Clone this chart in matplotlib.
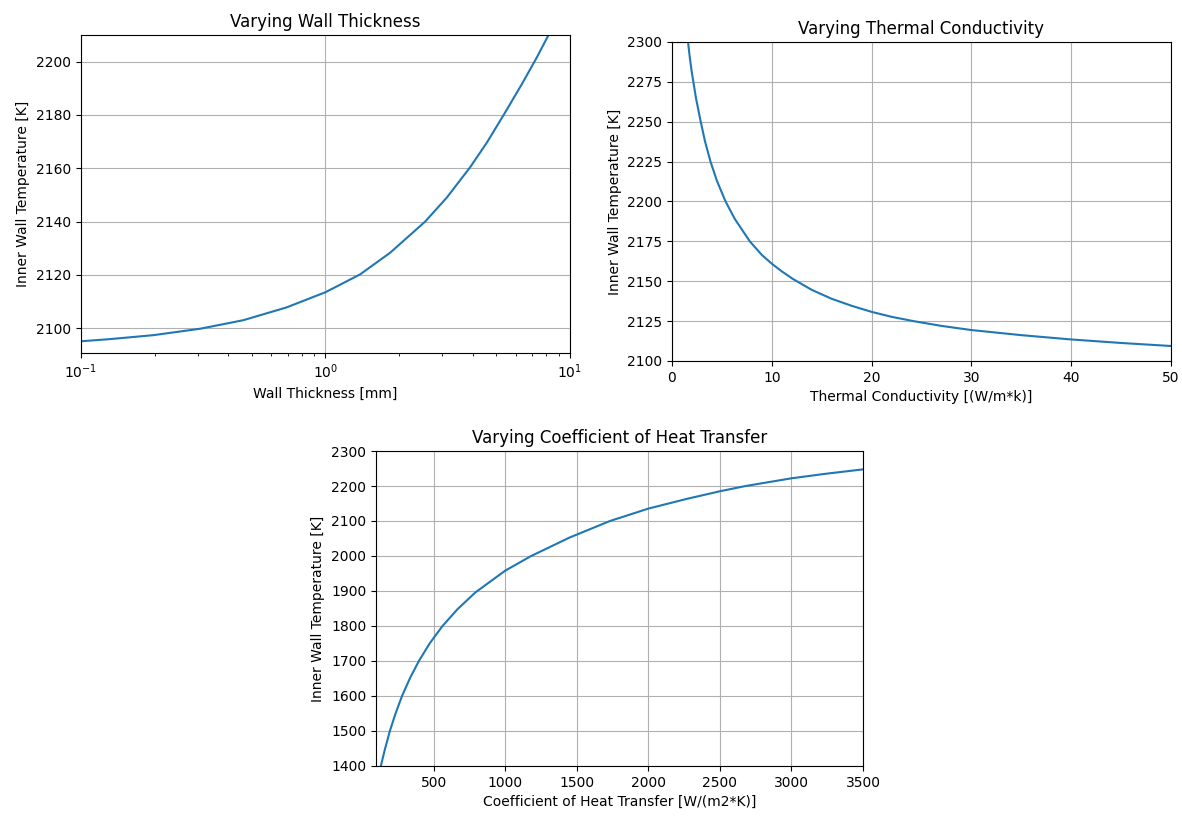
import matplotlib
matplotlib.use("Agg")
import matplotlib.pyplot as plt
import numpy as np

# Wall thickness sweep [mm] -> inner wall temperature [K]
thickness_mm = [0.1, 0.131, 0.198, 0.307, 0.461, 0.693, 1.0, 1.386, 1.838,
                2.557, 3.135, 3.906, 4.57, 5.38, 6.35, 7.32, 8.17]
temp_thickness = [2095.1, 2095.9, 2097.4, 2099.8, 2103.0, 2107.8, 2113.5,
                  2120.2, 2128.3, 2140.0, 2149.0, 2160.4, 2169.6, 2180.3,
                  2191.5, 2201.6, 2210.0]

# Thermal conductivity sweep [W/m*K]
conductivity = [1.61, 1.8, 2.01, 2.4, 2.85, 3.3, 3.86, 4.5, 5.37, 6.3, 7.8,
                9.0, 10.0, 11.0, 12.1, 14.0, 16.0, 18.0, 20.0, 22.0, 24.2,
                27.0, 30.0, 35.0, 40.0, 45.0, 50.0]
temp_conductivity = [2300.0, 2289.5, 2280.1, 2265.0, 2250.9, 2238.0, 2225.0,
                     2213.0, 2200.0, 2189.0, 2175.0, 2166.5, 2161.0, 2156.2,
                     2151.5, 2144.6, 2139.0, 2134.6, 2130.8, 2127.7, 2125.0,
                     2122.0, 2119.4, 2116.2, 2113.5, 2111.3, 2109.4]

# Heat transfer coefficient sweep [W/(m2*K)]
htc = [129, 155, 192, 230, 277, 335, 395, 470, 560, 665, 790, 1000, 1180,
       1450, 1731, 2000, 2266, 2500, 2680, 3000, 3250, 3500]
temp_htc = [1400.0, 1444.0, 1500.0, 1548.0, 1600.0, 1653.0, 1700.0, 1750.0,
            1800.0, 1848.0, 1896.0, 1958.5, 2000.0, 2053.0, 2100.0, 2135.5,
            2163.0, 2185.0, 2200.0, 2222.0, 2235.5, 2247.5]

fig = plt.figure(figsize=(11.82, 8.16), dpi=100)

ax1 = fig.add_axes([0.0685, 0.5674, 0.4137, 0.3897])
ax1.plot(thickness_mm, temp_thickness, color="C0", linewidth=1.5)
ax1.set_xscale("log")
ax1.set_xlim(0.1, 10)
ax1.set_ylim(2090.7, 2210)
ax1.set_yticks(np.arange(2100, 2201, 20))
ax1.set_title("Varying Wall Thickness")
ax1.set_xlabel("Wall Thickness [mm]")
ax1.set_ylabel("Inner Wall Temperature [K]")
ax1.grid(True)

ax2 = fig.add_axes([0.5685, 0.5576, 0.4222, 0.391])
ax2.plot(conductivity, temp_conductivity, color="C0", linewidth=1.5)
ax2.set_xlim(0, 50)
ax2.set_ylim(2100, 2300)
ax2.set_yticks(np.arange(2100, 2301, 25))
ax2.set_title("Varying Thermal Conductivity")
ax2.set_xlabel("Thermal Conductivity [(W/m*k)]")
ax2.set_ylabel("Inner Wall Temperature [K]")
ax2.grid(True)

ax3 = fig.add_axes([0.3181, 0.0613, 0.412, 0.386])
ax3.plot(htc, temp_htc, color="C0", linewidth=1.5)
ax3.set_xlim(95, 3500)
ax3.set_ylim(1400, 2300)
ax3.set_yticks(np.arange(1400, 2301, 100))
ax3.set_title("Varying Coefficient of Heat Transfer")
ax3.set_xlabel("Coefficient of Heat Transfer [W/(m2*K)]")
ax3.set_ylabel("Inner Wall Temperature [K]")
ax3.grid(True)

fig.savefig("out.png", dpi=100)
